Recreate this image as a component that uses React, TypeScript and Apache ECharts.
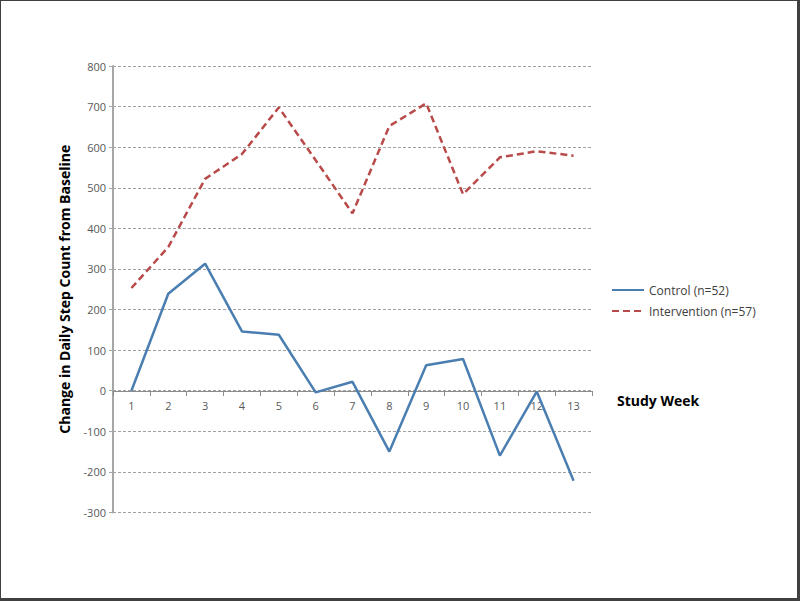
import React, { useEffect, useRef } from "react";
import * as echarts from "echarts";

const weeks = ["1", "2", "3", "4", "5", "6", "7", "8", "9", "10", "11", "12", "13"];
const controlValues = [0, 239, 313, 146, 138, -4, 22, -150, 63, 78, -160, -2, -222];
const interventionValues = [253, 354, 522, 583, 698, 568, 437, 652, 708, 484, 575, 590, 579];
const controlName = "Control (n=52)";
const interventionName = "Intervention (n=57)";
const yTitle = "Change in Daily Step Count from Baseline";
const xTitle = "Study Week";

export default function App() {
  const ref = useRef<HTMLDivElement>(null);
  useEffect(() => {
    if (!ref.current) return;
    const chart = echarts.init(ref.current, undefined, { renderer: "svg" });
    chart.setOption({
      animation: false,
      backgroundColor: "#ffffff",
      textStyle: { fontFamily: "Open Sans" },
      grid: { left: 112, right: 205, top: 65, bottom: 85.5, containLabel: false },
      legend: {
        orient: "vertical",
        left: 605,
        top: 278,
        itemWidth: 32,
        itemHeight: 12,
        itemGap: 9,
        itemStyle: { opacity: 0 },
        textStyle: { fontSize: 12, color: "#404040", fontFamily: "Open Sans" },
        data: [controlName, interventionName],
      },
      xAxis: {
        type: "category",
        data: weeks,
        boundaryGap: true,
        offset: -121.5,
        name: xTitle,
        nameLocation: "end",
        nameGap: 25,
        nameTextStyle: { fontSize: 14, fontWeight: "bold", color: "#000", fontFamily: "Open Sans", align: "left", verticalAlign: "top", padding: [2, 0, 0, 0] },
        axisLine: { onZero: false, lineStyle: { color: "#8c8c8c", width: 1 } },
        axisTick: { show: true, inside: false, length: 5, lineStyle: { color: "#8c8c8c" } },
        axisLabel: { fontSize: 11, color: "#595959", margin: 9 },
        splitLine: { show: false },
      },
      yAxis: {
        type: "value",
        min: -300,
        max: 800,
        interval: 100,
        name: yTitle,
        nameLocation: "middle",
        nameGap: 42,
        nameRotate: 90,
        nameTextStyle: { fontSize: 14, fontWeight: "bold", color: "#000", fontFamily: "Open Sans" },
        axisLine: { show: true, onZero: false, lineStyle: { color: "#a6a6a6", width: 2 } },
        axisTick: { show: true, length: 4, lineStyle: { color: "#a6a6a6" } },
        axisLabel: { fontSize: 11, color: "#595959", margin: 7 },
        splitLine: { show: true, lineStyle: { color: "#a0a0a0", type: [3, 2], width: 1 } },
      },
      series: [
        {
          name: controlName,
          type: "line",
          data: controlValues,
          symbol: "none",
          lineStyle: { color: "#4a7eb0", width: 2.5 },
          itemStyle: { color: "#4a7eb0" },
          z: 3,
        },
        {
          name: interventionName,
          type: "line",
          data: interventionValues,
          symbol: "none",
          lineStyle: { color: "#b94a4a", width: 2.5, type: [7, 4] },
          itemStyle: { color: "#b94a4a" },
          z: 3,
        },
      ],
    });
    return () => chart.dispose();
  }, []);
  return (
    <div
      style={{
        position: "fixed",
        left: 0,
        top: 0,
        width: 800,
        height: 601,
        boxSizing: "border-box",
        borderTop: "1px solid #404040",
        borderLeft: "1px solid #404040",
        borderRight: "3px solid #404040",
        borderBottom: "3px solid #404040",
        background: "#fff",
      }}
    >
      <div ref={ref} style={{ width: 796, height: 597 }} />
    </div>
  );
}
